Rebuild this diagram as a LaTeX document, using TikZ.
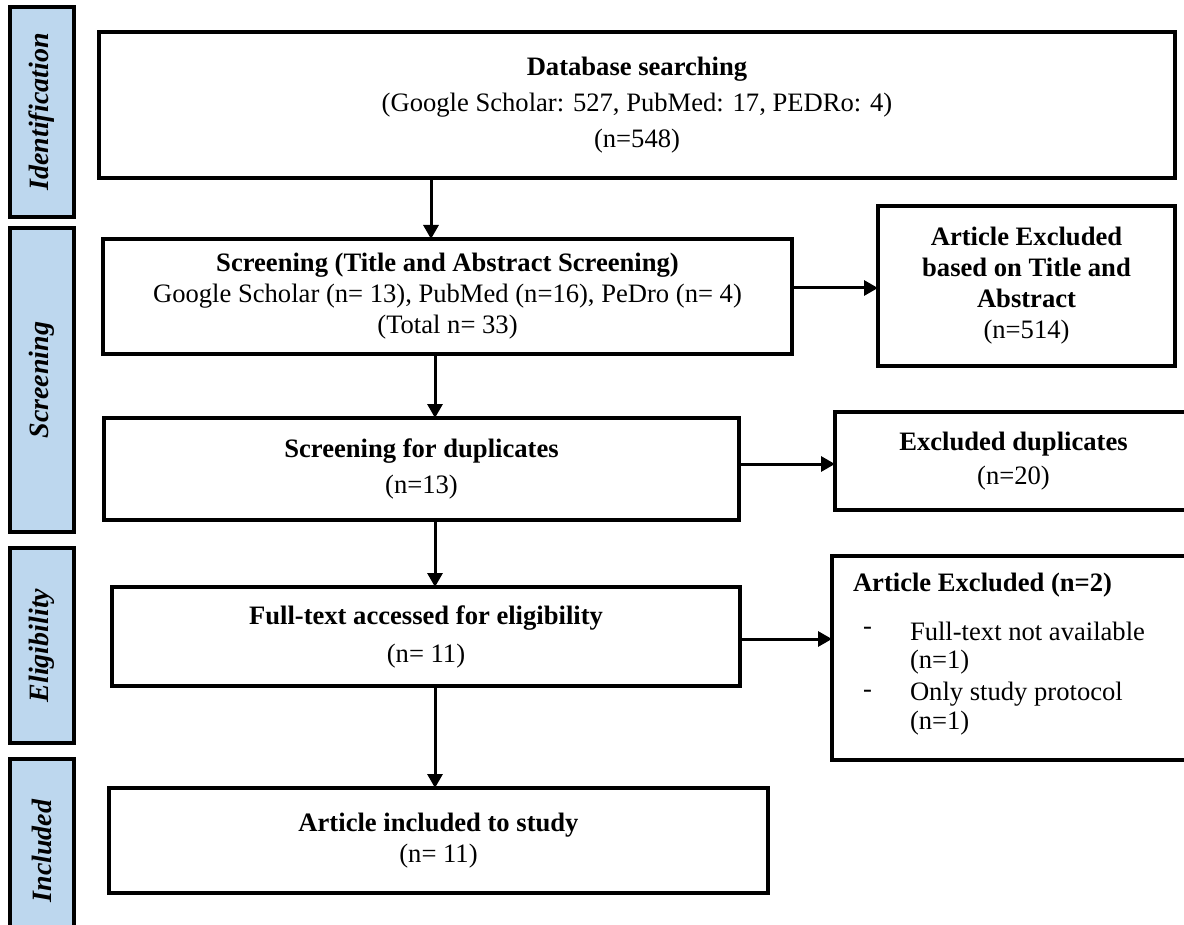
\documentclass[tikz,border=0pt]{standalone}
\usepackage{fontspec}
\setmainfont{Liberation Serif}
\usetikzlibrary{arrows.meta}
\definecolor{barblue}{RGB}{189,215,238}
\begin{document}
\begin{tikzpicture}[x=0.5pt,y=-0.5pt,
  every node/.style={font=\fontsize{13.3}{15.5}\selectfont, inner sep=0pt, outer sep=0pt},
  flowbox/.style={draw=black, line width=2pt, align=center, fill=white},
  phasebar/.style={draw=black, line width=1.6pt, fill=barblue, minimum width=32pt},
  phasefont/.style={font=\fontsize{14}{16}\selectfont\bfseries\itshape},
  plain/.style={anchor=west, align=left},
  arr/.style={line width=1.5pt, -{Triangle[length=7pt,width=7.5pt]}}]

\useasboundingbox (0,0) rectangle (1184,925);
\fill[white] (0,0) rectangle (1184,925);
\clip (0,0) rectangle (1184,925);

% phase bars
\node[phasebar, phasefont, minimum height=105pt] (pid) at (42,112) {\rotatebox{90}{Identification}};
\node[phasebar, phasefont, minimum height=152pt] (pscr) at (42,380) {\rotatebox{90}{Screening}};
\node[phasebar, phasefont, minimum height=97.5pt] (pel) at (42,645.5) {\rotatebox{90}{Eligibility}};
\node[phasebar, phasefont, minimum height=92pt] (pinc) at (42,851) {\rotatebox{90}{Included}};

% main column
\node[flowbox, minimum width=538pt, minimum height=73pt] (db) at (637,105)
  {\textbf{Database searching}\\[2.5pt](Google Scholar: 527, PubMed: 17, PEDRo: 4)\\[2.5pt](n=548)};
\node[flowbox, minimum width=344.5pt, minimum height=57.5pt] (scr) at (447.5,296.5)
  {\textbf{Screening (Title and Abstract Screening)}\\Google Scholar (n= 13), PubMed (n=16), PeDro (n= 4)\\(Total n= 33)};
\node[flowbox, minimum width=317.5pt, minimum height=51pt] (dup) at (421.5,469)
  {\textbf{Screening for duplicates}\\[2.5pt](n=13)};
\node[flowbox, minimum width=314pt, minimum height=49.5pt] (full) at (426,636.5)
  {\textbf{Full-text accessed for eligibility}\\[3.5pt](n= 11)};
\node[flowbox, minimum width=329.5pt, minimum height=52.5pt] (incl) at (438.5,840.5)
  {\textbf{Article included to study}\\(n= 11)};

% right column
\node[flowbox, minimum width=148.5pt, minimum height=80pt] (ex1) at (1026.5,286)
  {\textbf{Article Excluded}\\\textbf{based on Title and}\\\textbf{Abstract}\\(n=514)};
\node[flowbox, minimum width=178.5pt, minimum height=49pt] (exdup) at (1013.5,461)
  {\textbf{Excluded duplicates}\\[1.5pt](n=20)};
\node[flowbox, minimum width=180pt, minimum height=102pt] (ex3) at (1012,658) {};
\node[plain] (ex3t) at (853,585) {\textbf{Article Excluded (n=2)}};
\node[plain] (d1) at (863,631) {-};
\node[plain] (t1) at (910,631) {Full-text not available};
\node[plain] (t2) at (910,662) {(n=1)};
\node[plain] (d2) at (863,694) {-};
\node[plain] (t3) at (910,694) {Only study protocol};
\node[plain] (t4) at (910,723) {(n=1)};

% connector columns / rows
\coordinate (colA) at (431,0);
\coordinate (colB) at (435,0);
\coordinate (rowA) at (0,288);
\coordinate (rowB) at (0,464);
\coordinate (rowC) at (0,639);

\draw[arr] (db.south -| colA) -- (scr.north -| colA);
\draw[arr] (scr.south -| colB) -- (dup.north -| colB);
\draw[arr] (dup.south -| colB) -- (full.north -| colB);
\draw[arr] (full.south -| colB) -- (incl.north -| colB);
\draw[arr] (scr.east |- rowA) -- (ex1.west |- rowA);
\draw[arr] (dup.east |- rowB) -- (exdup.west |- rowB);
\draw[arr] (full.east |- rowC) -- (ex3.west |- rowC);
\end{tikzpicture}
\end{document}
